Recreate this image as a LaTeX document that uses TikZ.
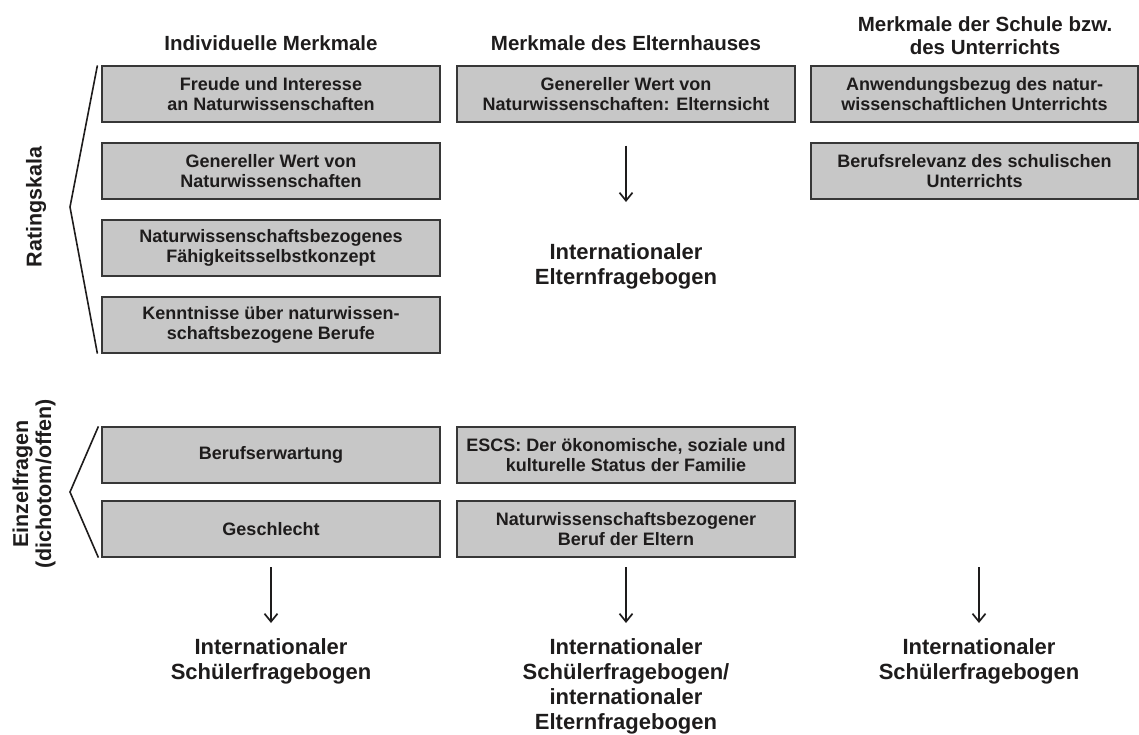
\documentclass[tikz,border=0pt]{standalone}
\usepackage{fontspec}
\setmainfont{Liberation Sans}
\usetikzlibrary{arrows.meta}
\definecolor{boxfill}{RGB}{199,199,199}
\definecolor{boxline}{RGB}{55,55,55}
\definecolor{ink}{RGB}{30,28,28}
\begin{document}
\begin{tikzpicture}[x=1pt, y=-1pt, font=\bfseries, text=ink,
  merkmal/.style={rectangle, draw=boxline, line width=1.2pt, fill=boxfill,
    minimum width=338pt, minimum height=56pt, inner sep=0pt, align=center,
    font=\bfseries\fontsize{18}{20.7}\selectfont},
  kopf/.style={align=center, inner sep=0pt, anchor=north,
    font=\bfseries\fontsize{20.5}{23}\selectfont},
  quelle/.style={align=center, inner sep=0pt, anchor=north,
    font=\bfseries\fontsize{22}{25}\selectfont},
  seite/.style={align=center, inner sep=0pt, rotate=90,
    font=\bfseries\fontsize{21.5}{23}\selectfont},
  pfeil/.style={-{Straight Barb[length=8pt,width=13pt]}, line width=1.7pt, ink},
  klammer/.style={line width=1.6pt, ink}]
\useasboundingbox (0,0) rectangle (1139,734);
% Spaltenkoepfe
\node[kopf] (k1) at (271, 35) {Individuelle Merkmale};
\node[kopf] (k2) at (626, 35) {Merkmale des Elternhauses};
\node[kopf] (k3) at (985, 16) {Merkmale der Schule bzw.\\des Unterrichts};
% Individuelle Merkmale
\node[merkmal] (fi) at (271, 94) {Freude und Interesse\\an Naturwissenschaften};
\node[merkmal] (gw) at (271, 171) {Genereller Wert von\\Naturwissenschaften};
\node[merkmal] (fs) at (271, 248) {Naturwissenschaftsbezogenes\\Fähigkeitsselbstkonzept};
\node[merkmal] (kb) at (271, 325) {Kenntnisse über naturwissen-\\schaftsbezogene Berufe};
\node[merkmal] (be) at (271, 455) {Berufserwartung};
\node[merkmal] (gs) at (271, 529) {Geschlecht};
% Elternhaus
\node[merkmal] (ge) at (626, 94) {Genereller Wert von\\Naturwissenschaften: Elternsicht};
\node[merkmal] (es) at (626, 455) {ESCS: Der ökonomische, soziale und\\kulturelle Status der Familie};
\node[merkmal] (nb) at (626, 529) {Naturwissenschaftsbezogener\\Beruf der Eltern};
% Schule
\node[merkmal, minimum width=327pt] (ab) at (974.5, 94) {Anwendungsbezug des natur-\\wissenschaftlichen Unterrichts};
\node[merkmal, minimum width=327pt] (br) at (974.5, 171) {Berufsrelevanz des schulischen\\Unterrichts};
% Frageboegen
\node[quelle] (efb) at (626, 243) {Internationaler\\Elternfragebogen};
\node[quelle] (sf1) at (271, 638) {Internationaler\\Schülerfragebogen};
\node[quelle] (sf2) at (626, 638) {Internationaler\\Schülerfragebogen/\\internationaler\\Elternfragebogen};
\node[quelle] (sf3) at (979, 638) {Internationaler\\Schülerfragebogen};
\draw[pfeil] ([yshift=-23pt]ge.south) -- ([yshift=41pt]efb.north);
\coordinate (a1) at (271, 567);
\coordinate (a2) at (626, 567);
\coordinate (a3) at (979, 567);
\draw[pfeil] (a1) -- ([yshift=15pt]sf1.north);
\draw[pfeil] (a2) -- ([yshift=15pt]sf2.north);
\draw[pfeil] (a3) -- ([yshift=15pt]sf3.north);
% Klammern links
\coordinate (rs) at (70, 207);
\coordinate (ez) at (70, 492);
\draw[klammer] ([xshift=-4pt]fi.north west) -- (rs) -- ([xshift=-4pt]kb.south west);
\draw[klammer] ([xshift=-3pt]be.north west) -- (ez) -- ([xshift=-3pt]gs.south west);
\node[seite] (rk) at (36, 207) {Ratingskala};
\node[seite] (eh) at (34, 484) {Einzelfragen\\(dichotom/offen)};
\end{tikzpicture}
\end{document}
